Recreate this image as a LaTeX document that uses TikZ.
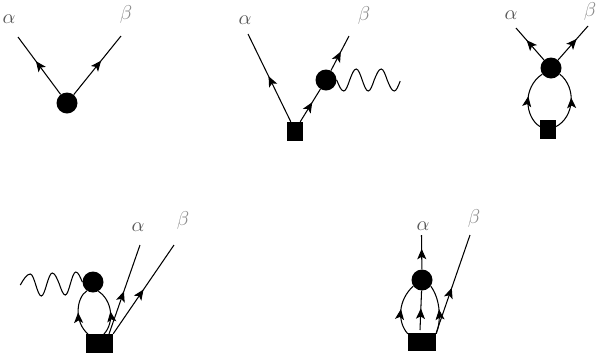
\documentclass[tikz,border=0pt]{standalone}
\usetikzlibrary{arrows.meta,decorations.markings}
\newcommand{\biggreek}[1]{\scalebox{2}{$#1$}}
\tikzset{
 dot/.style={circle,fill=black,inner sep=0pt,minimum size=21pt},
 blk/.style={rectangle,fill=black,inner sep=0pt},
 lab/.style={inner sep=0pt,text=black!65},
 labb/.style={inner sep=0pt,text=black!45},
 ln/.style={line width=1.05pt,black},
 mid/.style={ln,postaction={decorate},decoration={markings,mark=at position #1 with {\arrow{Stealth[length=10.5pt,width=9pt,inset=2.5pt]}}}},
 mid/.default=0.5,
 wav/.style={ln}
}
\begin{document}
\begin{tikzpicture}[x=1pt,y=-1pt]
\useasboundingbox (0,0) rectangle (597,360);
% diagram 1
\node[dot] (c1) at (67,103) {};
\coordinate (a1) at (18,37);
\coordinate (b1) at (121,36);
\draw[mid=0.58] (c1) -- (a1);
\draw[mid=0.58] (c1) -- (b1);
\node[lab] (la1) at (9,19) {\biggreek{\alpha}};
\node[labb] (lb1) at (126,14) {\biggreek{\beta}};
% diagram 2
\node[blk,minimum width=16pt,minimum height=19pt] (s2) at (295,131.5) {};
\node[dot] (c2) at (326,80) {};
\coordinate (a2) at (248,34);
\coordinate (b2) at (349,36);
\draw[mid=0.52] (s2.north west) ++(4,0) coordinate (s2a) (s2a) -- (a2);
\draw[mid=0.6] (s2.north east) ++(-3,0) coordinate (s2b) (s2b) -- (c2);
\draw[mid=0.55] (c2) -- (b2);
\draw[wav] (c2.east) sin ++(7,11) cos ++(6,-11) sin ++(6.5,-11) cos ++(6,11) sin ++(6,11) cos ++(6,-11) sin ++(7,-11) cos ++(6,11) sin ++(7,11) cos ++(6,-10);
\node[lab] (la2) at (245,20) {\biggreek{\alpha}};
\node[labb] (lb2) at (364,15) {\biggreek{\beta}};
% diagram 3
\node[dot] (c3) at (551,68) {};
\node[blk,minimum width=16pt,minimum height=19pt] (s3) at (548,129.5) {};
\coordinate (a3) at (516,28);
\coordinate (b3) at (588,26);
\draw[mid=0.62] (c3) -- (a3);
\draw[mid=0.62] (c3) -- (b3);
\draw[mid=0.56] (s3.160) .. controls (525,117) and (522,88) .. (c3.215);
\draw[mid=0.56] (s3.20) .. controls (574,117) and (577,88) .. (c3.325);
\node[lab] (la3) at (511,15) {\biggreek{\alpha}};
\node[labb] (lb3) at (590,11) {\biggreek{\beta}};
% diagram 4
\node[dot] (c4) at (93,282) {};
\node[blk,minimum width=27pt,minimum height=19pt] (s4) at (99.5,343.5) {};
\coordinate (a4) at (140,245);
\coordinate (b4) at (174,245);
\coordinate (s4l) at (88,334);
\coordinate (s4m) at (104,334);
\coordinate (s4r) at (109,334);
\draw[mid=0.5] (s4l) .. controls (74,322) and (76,298) .. (c4.235);
\draw[mid=0.5] (s4m) .. controls (115,322) and (112,300) .. (c4.300);
\draw[mid=0.48] (s4r) -- (a4);
\draw[mid=0.5] (s4.north east) -- (b4);
\draw[wav] (c4.west) sin ++(-6.5,-10) cos ++(-5.5,12) sin ++(-5,11) cos ++(-6,-11) sin ++(-7,-11) cos ++(-5.5,11) sin ++(-5.5,12) cos ++(-5.5,-11) sin ++(-5.5,-11) cos ++(-10,11);
\node[lab] (la4) at (138,227) {\biggreek{\alpha}};
\node[labb] (lb4) at (183,220) {\biggreek{\beta}};
% diagram 5
\node[dot] (c5) at (422,280) {};
\node[blk,minimum width=28pt,minimum height=18pt] (s5) at (422,342) {};
\coordinate (a5) at (421.5,235);
\coordinate (b5) at (470,235);
\coordinate (m5) at (420,330);
\draw[mid=0.6] (c5) -- (a5);
\draw[mid=0.55] (m5) -- (c5);
\draw[mid=0.5] (s5.150) .. controls (397,322) and (398,300) .. (c5.215);
\draw[mid=0.5] (s5.30) .. controls (441,322) and (441,300) .. (c5.325);
\draw[mid=0.46] (s5.north east) -- (b5);
\node[lab] (la5) at (423,226) {\biggreek{\alpha}};
\node[labb] (lb5) at (474,218) {\biggreek{\beta}};
\end{tikzpicture}
\end{document}
